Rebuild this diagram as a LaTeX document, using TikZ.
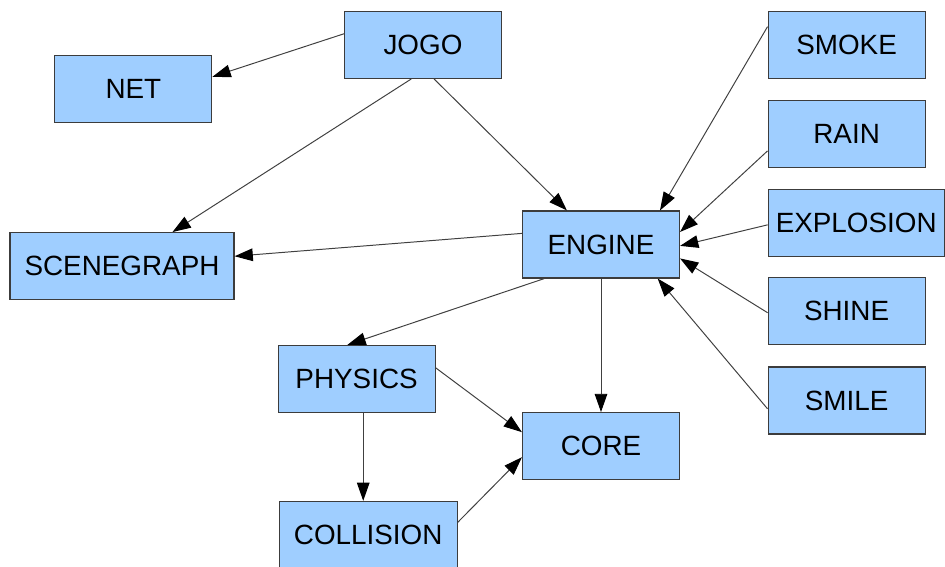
\documentclass[tikz,border=0pt]{standalone}
\usepackage{fontspec}
\setmainfont{Liberation Sans}
\usetikzlibrary{arrows.meta}
\definecolor{boxblue}{RGB}{159,206,255}
\definecolor{boxline}{RGB}{60,60,60}
\tikzstyle{module} = [rectangle, minimum width=3.925cm, minimum height=1.675cm, text centered, draw=boxline, line width=0.8pt, fill=boxblue, font=\fontsize{19.8}{24}\selectfont]
\tikzstyle{arrow} = [line width=0.7pt, draw=black!75, -{Triangle[length=13pt, width=9pt, black]}]

\begin{document}
\begin{tikzpicture}[node distance=2.23cm]
	\useasboundingbox (-15.025,6.1125) rectangle (8.6,-8.0375);
	\node (engine) [module] {ENGINE};
	\node (core) [module, below of=engine, yshift=-2.81cm] {CORE};
	\node (jogo) [module, above of=engine, xshift=-4.45cm, yshift=2.76cm] {JOGO};
	\node (net) [module, left of=jogo, xshift=-5.01cm, yshift=-1.11cm] {NET};

	\draw [arrow] (jogo.172) -- (net.9);
	\draw [arrow] (jogo.288) -- (engine.135);
	\draw [arrow] (engine) -- (core);

	\node (smoke) [module, right of=jogo, xshift=8.36cm] {SMOKE};
	\node (rain) [module, below of=smoke] {RAIN};
	\node (explosion) [module, below of=rain, xshift=0.24cm, minimum width=4.4cm] {EXPLOSION};
	\node (shine) [module, below of=explosion, xshift=-0.24cm, yshift=0.03cm] {SHINE};
	\node (smile) [module, below of=shine] {SMILE};

	\draw [arrow] (smoke.167) -- (engine.30.4);
	\draw [arrow] (rain.192) -- (engine.9);
	\draw [arrow] (explosion.181) -- (engine.359);
	\draw [arrow] (shine.181.5) -- (engine.350.3);
	\draw [arrow] (smile.186) -- (engine.329.6);

	\node (scenegraph) [module, left of=engine, xshift=-9.745cm, yshift=-0.54cm, minimum width=5.6cm] {SCENEGRAPH};

	\draw [arrow] (jogo.251) -- (scenegraph.34.5);
	\draw [arrow] (engine.172.3) -- (scenegraph.5.1);

	\node (physics) [module, below of=engine, xshift=-6.11cm, yshift=-1.13cm] {PHYSICS};
	\node (collision) [module, below of=physics, xshift=0.29cm, yshift=-1.67cm, minimum width=4.45cm] {COLLISION};

	\draw [arrow] (engine.211.6) -- (physics.105.6);
	\draw [arrow] (physics.8.1) -- (core.170.5);
	\draw [arrow] (physics.281) -- (physics.281 |- collision.north);
	\draw [arrow] (collision.8) -- (core.188.7);
\end{tikzpicture}
\end{document}
